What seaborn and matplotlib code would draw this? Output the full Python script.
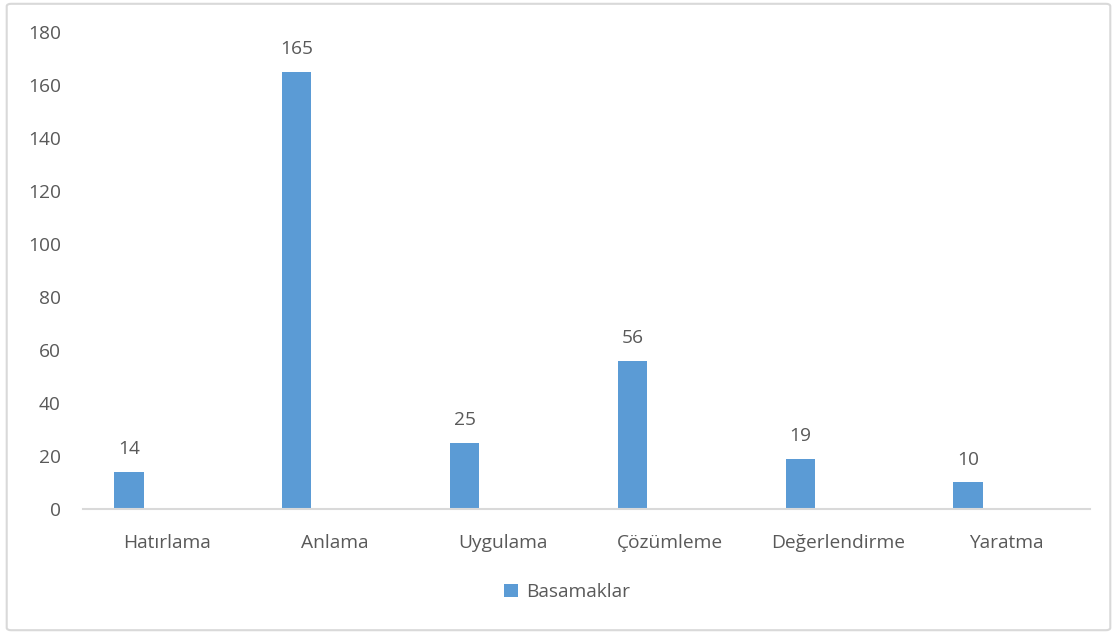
import matplotlib
matplotlib.use("Agg")
import matplotlib.pyplot as plt
from matplotlib.patches import FancyBboxPatch, Patch
import seaborn as sns
import pandas as pd

categories = ["Hatırlama", "Anlama", "Uygulama", "Çözümleme", "Değerlendirme", "Yaratma"]
values = [14, 165, 25, 56, 19, 10]
series_name = "Basamaklar"
y_ticks = [0, 20, 40, 60, 80, 100, 120, 140, 160, 180]

BAR = "#5B9BD5"
TXT = "#595959"
AXIS = "#D9D9D9"
FS = 13.8

sns.set_theme(style="white")
plt.rcParams["font.family"] = ["Open Sans", "DejaVu Sans"]

df = pd.DataFrame({"kategori": categories, "deger": values})

fig = plt.figure(figsize=(11.17, 6.34), dpi=100)
ax = fig.add_axes([0.0743, 0.1972, 0.9015, 0.7523])

sns.barplot(data=df, x="kategori", y="deger", color=BAR, width=0.175,
            saturation=1, ax=ax, edgecolor="none")

# first-series slot of each category group sits left of centre
for p in ax.patches:
    p.set_x(p.get_x() - 0.226)

ax.bar_label(ax.containers[0], labels=[str(v) for v in values], padding=10,
             fontsize=FS, color=TXT)

ax.set_xlim(-0.5, len(categories) - 0.5)
ax.set_ylim(0, 180)
ax.set_yticks(y_ticks)
ax.set_xlabel("")
ax.set_ylabel("")
ax.tick_params(axis="y", length=0, pad=16, labelsize=FS, labelcolor=TXT)
ax.tick_params(axis="x", length=0, pad=18, labelsize=FS, labelcolor=TXT)

for s in ["top", "right", "left"]:
    ax.spines[s].set_visible(False)
ax.spines["bottom"].set_color(AXIS)
ax.spines["bottom"].set_linewidth(1.5)

fig.legend(handles=[Patch(facecolor=BAR, edgecolor="none", label=series_name)],
           loc="center", bbox_to_anchor=(0.508, 0.066), frameon=False,
           fontsize=FS, labelcolor=TXT, handlelength=0.7, handleheight=0.7,
           handletextpad=0.45)

fig.patches.append(FancyBboxPatch((0.006, 0.006), 0.988, 0.988,
                                  boxstyle="round,pad=0,rounding_size=0.004",
                                  transform=fig.transFigure, facecolor="none",
                                  edgecolor=AXIS, linewidth=1.5))

fig.savefig("out.png", dpi=100)
